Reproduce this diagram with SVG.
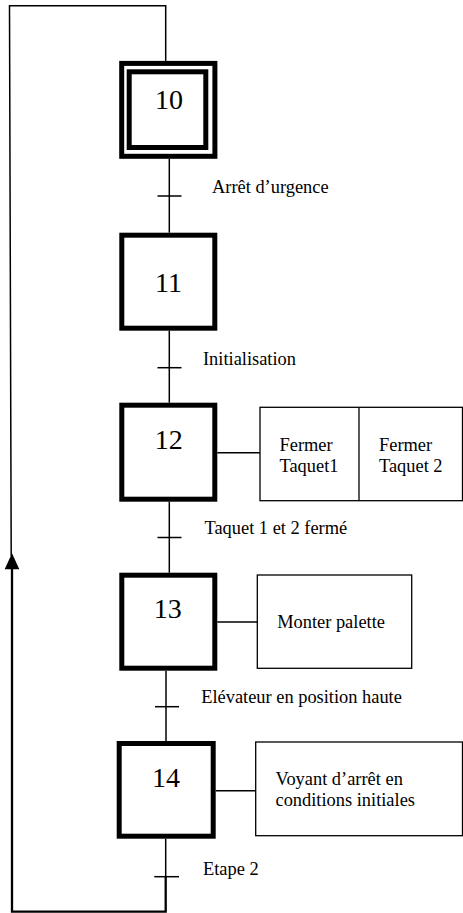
<svg xmlns="http://www.w3.org/2000/svg" width="463" height="913" viewBox="0 0 463 913">
<style>
  .bg{fill:#fff}
  .step{fill:#fff;stroke:#000;stroke-width:5}
  .act{fill:#fff;stroke:#000;stroke-width:1.3}
  .ln{fill:none;stroke:#000;stroke-width:1.5}
  .loop{fill:none;stroke:#000;stroke-width:2.3}
  text{font-family:'Liberation Serif','Times New Roman',Times,'DejaVu Serif',serif;fill:#000}
  .num{font-size:28px;text-anchor:middle}
  .lbl{font-size:18.4px}
</style>
<rect class="bg" x="0" y="0" width="463" height="913"/>

<g id="connectors">
  <polyline class="ln" points="165.7,61 165.7,5.7 9.5,5.7 11.2,556"/>
  <polyline class="loop" points="165.7,876 165.7,911.7 12,911.7 12,569"/>
  <polygon points="12,553.3 4.7,569.3 19.3,569.3" fill="#000"/>
  <line class="ln" x1="169.3" y1="158.7" x2="169.3" y2="232.7"/>
  <line class="ln" x1="169.3" y1="330.7" x2="169.3" y2="402.7"/>
  <line class="ln" x1="169.3" y1="501.7" x2="169.3" y2="572.7"/>
  <line class="ln" x1="166" y1="670.7" x2="166" y2="741"/>
  <line class="ln" x1="165.7" y1="838.7" x2="165.7" y2="877"/>
  <line class="ln" x1="157.5" y1="196" x2="181.5" y2="196"/>
  <line class="ln" x1="157.5" y1="367.7" x2="181.5" y2="367.7"/>
  <line class="ln" x1="157.5" y1="537.5" x2="181.5" y2="537.5"/>
  <line class="ln" x1="155" y1="706.7" x2="179" y2="706.7"/>
  <line class="ln" x1="154.3" y1="876.7" x2="179" y2="876.7"/>
  <line class="ln" x1="217.3" y1="452.7" x2="260" y2="452.7"/>
  <line class="ln" x1="217.3" y1="622" x2="257.3" y2="622"/>
  <line class="ln" x1="215.7" y1="790.7" x2="255.7" y2="790.7"/>
</g>

<g id="step10">
  <rect class="step" x="121.7" y="63.4" width="93.2" height="92.9" stroke-width="4.7"/>
  <rect class="step" x="129.2" y="71.8" width="76.6" height="75.7"/>
  <text class="num" x="169" y="109">10</text>
</g>
<g id="t10_11"><text class="lbl" x="212" y="193.3">Arrêt d’urgence</text></g>

<g id="step11">
  <rect class="step" x="121.8" y="235.2" width="93" height="93"/>
  <text class="num" x="168.5" y="292.3">11</text>
</g>
<g id="t11_12"><text class="lbl" x="203" y="365">Initialisation</text></g>

<g id="step12">
  <rect class="step" x="121.8" y="405.2" width="93" height="94"/>
  <text class="num" x="168.8" y="449">12</text>
</g>
<g id="action12">
  <rect class="act" x="260" y="407.3" width="202.5" height="93.4"/>
  <line class="act" x1="359" y1="407.3" x2="359" y2="500.7"/>
  <text class="lbl" x="279.5" y="450.7">Fermer</text>
  <text class="lbl" x="279.5" y="471.7">Taquet1</text>
  <text class="lbl" x="379" y="450.7">Fermer</text>
  <text class="lbl" x="379" y="471.7">Taquet 2</text>
</g>
<g id="t12_13"><text class="lbl" x="204.5" y="534">Taquet 1 et 2 fermé</text></g>

<g id="step13">
  <rect class="step" x="121.8" y="575.2" width="93" height="93"/>
  <text class="num" x="167.8" y="618.3">13</text>
</g>
<g id="action13">
  <rect class="act" x="257.3" y="575" width="154.4" height="93.3"/>
  <text class="lbl" x="277.2" y="627.7">Monter palette</text>
</g>
<g id="t13_14"><text class="lbl" x="201.2" y="703.3">Elévateur en position haute</text></g>

<g id="step14">
  <rect class="step" x="119.2" y="743.5" width="94" height="92.7"/>
  <text class="num" x="166" y="786.7">14</text>
</g>
<g id="action14">
  <rect class="act" x="255.7" y="742" width="206.8" height="93.7"/>
  <text class="lbl" x="275.5" y="785">Voyant d’arrêt en</text>
  <text class="lbl" x="275.5" y="806">conditions initiales</text>
</g>
<g id="t14_10"><text class="lbl" x="203" y="875">Etape 2</text></g>
</svg>
